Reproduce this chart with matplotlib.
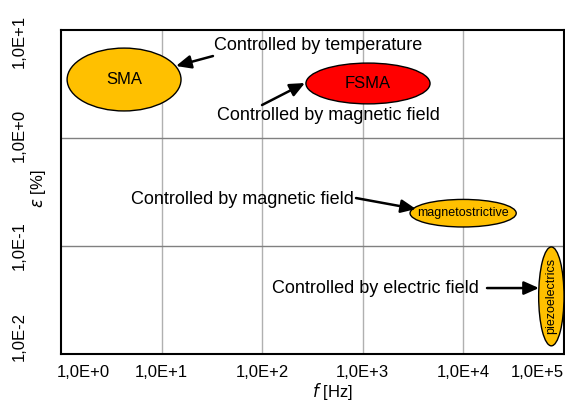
import numpy as np
import matplotlib
matplotlib.use("Agg")
from matplotlib import pyplot as plt
from matplotlib.patches import Ellipse
from matplotlib.transforms import blended_transform_factory

plt.rcParams['font.family'] = ['Liberation Sans', 'DejaVu Sans']

# material regions: frequency range [Hz], strain range [%]
names = ["SMA", "FSMA", "magnetostrictive", "piezoelectrics"]
f_min = [1.15, 272, 2950, 56000]
f_max = [15.6, 4660, 33500, 100000]
e_min = [1.78, 2.07, 0.15, 0.0119]
e_max = [6.8, 4.94, 0.27, 0.098]
colors = ["#FFC000", "#FF0000", "#FFC000", "#FFC000"]

# annotations: text position, arrow tail and arrow tip (data coords)
notes = ["Controlled by temperature", "Controlled by magnetic field",
         "Controlled by magnetic field", "Controlled by electric field"]
note_xy = [(359, 7.26), (451, 1.63), (63, 0.272), (1322, 0.0408)]
tail_xy = [(32.4, 5.74), (99.6, 2.02), (856, 0.278), (17170, 0.0408)]
tip_xy = [(13.9, 4.64), (266, 3.23), (3380, 0.22), (56400, 0.0408)]

xticks = [1e0, 1e1, 1e2, 1e3, 1e4, 1e5]
xlabels = ["1,0E+0", "1,0E+1", "1,0E+2", "1,0E+3", "1,0E+4", "1,0E+5"]
yticks = [1e-2, 1e-1, 1e0, 1e1]
ylabels = ["1,0E-2", "1,0E-1", "1,0E+0", "1,0E+1"]

fig = plt.figure(figsize=(5.65, 4.03), dpi=100)
ax = fig.add_axes([61 / 565, 1 - 354 / 403, 503 / 565, 324 / 403])
ax.set_xscale("log")
ax.set_yscale("log")
ax.set_xlim(1, 1e5)
ax.set_ylim(1e-2, 1e1)

for x in xticks[1:-1]:
    ax.axvline(x, color="#b0b0b0", lw=1, zorder=0)
for y in yticks[1:-1]:
    ax.axhline(y, color="#808080", lw=1, zorder=0)

# ellipses drawn in log10 space
log_tr = ax.transLimits + ax.transAxes
for i in range(len(names)):
    cx = (np.log10(f_min[i]) + np.log10(f_max[i])) / 2
    cy = (np.log10(e_min[i]) + np.log10(e_max[i])) / 2
    w = np.log10(f_max[i]) - np.log10(f_min[i])
    h = np.log10(e_max[i]) - np.log10(e_min[i])
    ax.add_patch(Ellipse((cx, cy), w, h, transform=log_tr, facecolor=colors[i],
                         edgecolor="black", lw=1, zorder=3, clip_on=False))
    rot = 90 if names[i] == "piezoelectrics" else 0
    fs = 9 if names[i] in ("magnetostrictive", "piezoelectrics") else 12
    ax.text(10 ** cx, 10 ** cy, names[i], ha="center", va="center", rotation=rot,
            fontsize=fs, zorder=4)

for i in range(len(notes)):
    ax.text(note_xy[i][0], note_xy[i][1], notes[i], ha="center", va="center",
            fontsize=13, zorder=5)
    ax.annotate("", xy=tip_xy[i], xytext=tail_xy[i],
                arrowprops=dict(arrowstyle="-|>,head_length=0.9,head_width=0.4",
                                color="black", lw=1.8, shrinkA=0, shrinkB=0),
                zorder=5)

# tick labels placed like the Excel export
ax.set_xticks([])
ax.set_yticks([])
ax.minorticks_off()
xt = blended_transform_factory(ax.transData, ax.transAxes)
for i, x in enumerate(xticks):
    ha = "center"
    if i == 0:
        ha = "left"
    elif i == len(xticks) - 1:
        ha = "right"
    xx = x * 0.91 if i == 0 else x
    ax.text(xx, -0.058, xlabels[i], transform=xt, ha=ha, va="center", fontsize=12)
yt = blended_transform_factory(ax.transAxes, ax.transData)
y_shift = [1.45, 1.0, 1.05, 0.79]
for i, y in enumerate(yticks):
    ax.text(-0.083, y * y_shift[i], ylabels[i], transform=yt, rotation=90,
            ha="center", va="center", fontsize=12)

for s in ax.spines.values():
    s.set_linewidth(1.5)

ax.text(0.54, -0.117, r"$f$ [Hz]", transform=ax.transAxes, ha="center",
        va="center", fontsize=12)
ax.text(-0.045, 0.51, r"$\varepsilon$ [%]", transform=ax.transAxes, rotation=90,
        ha="center", va="center", fontsize=12)

fig.savefig("out.png", dpi=100)
